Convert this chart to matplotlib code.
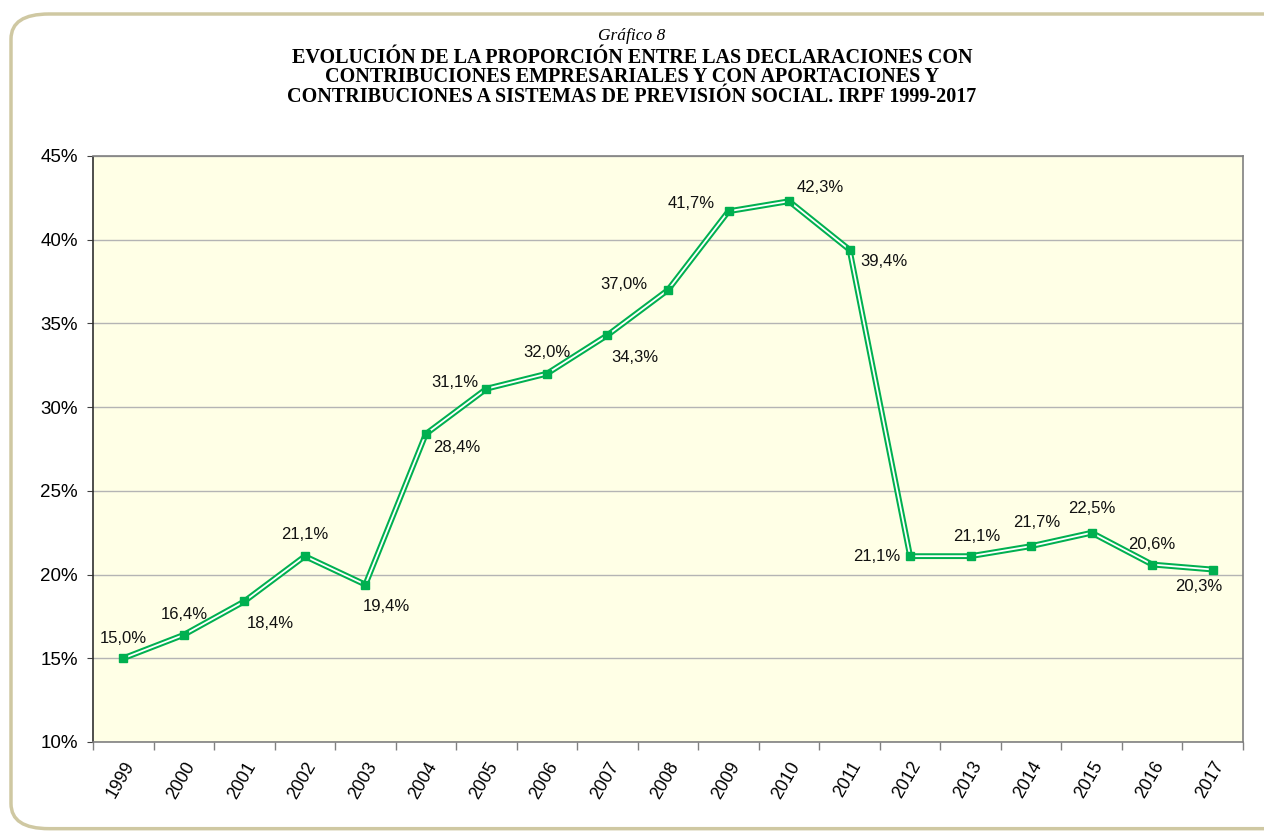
import matplotlib.pyplot as plt
import matplotlib.transforms as mtransforms
from matplotlib.patches import FancyBboxPatch
from matplotlib.ticker import FixedLocator, FuncFormatter

anios = [str(a) for a in range(1999, 2018)]
proporcion = [15.0, 16.4, 18.4, 21.1, 19.4, 28.4, 31.1, 32.0, 34.3, 37.0,
              41.7, 42.3, 39.4, 21.1, 21.1, 21.7, 22.5, 20.6, 20.3]
# desplazamiento de cada etiqueta respecto al punto (pixeles)
desplazamientos = [(0, 20), (1, 20), (26, -22), (0, 22), (21, -22), (31, -14),
                   (-32, 6), (0, 21), (27, -22), (-44, 5), (-37, 8), (31, 14),
                   (34, -12), (-33, 0), (6, 20), (6, 24), (0, 24), (0, 20),
                   (-14, -17)]
lineas_titulo = ['EVOLUCIÓN DE LA PROPORCIÓN ENTRE LAS DECLARACIONES CON',
                 'CONTRIBUCIONES EMPRESARIALES Y CON APORTACIONES Y',
                 'CONTRIBUCIONES A SISTEMAS DE PREVISIÓN SOCIAL. IRPF 1999-2017']

verde = '#00B050'
fondo = '#FFFFE6'

fig = plt.figure(figsize=(12.64, 8.32), dpi=100)

# marco redondeado del recuadro
marco = FancyBboxPatch((11 / 1264, 0.004), 1.2, 1 - 14 / 832 - 0.004,
                       boxstyle='round,pad=0,rounding_size=0.03',
                       transform=fig.transFigure, facecolor='none',
                       edgecolor='#CFC8A2', linewidth=2.5, clip_on=False)
fig.patches.append(marco)

ax = fig.add_axes([93 / 1264, 1 - 742 / 832, 1150 / 1264, 586 / 832])
ax.set_facecolor(fondo)

x = list(range(len(anios)))
ax.plot(x, proporcion, color=verde, lw=4.2, solid_joinstyle='miter', zorder=3)
ax.plot(x, proporcion, color='white', lw=1.3, solid_joinstyle='miter', zorder=4)
ax.plot(x, proporcion, ls='none', marker='s', ms=6, color=verde, zorder=5)

for xi, v, (dx, dy) in zip(x, proporcion, desplazamientos):
    ax.annotate(f'{v:.1f}%'.replace('.', ','), (xi, v), xytext=(dx, dy),
                textcoords='offset pixels', ha='center', va='center',
                fontsize=12, family='Liberation Sans', color='#111111', zorder=6)

ax.set_xlim(-0.5, len(anios) - 0.5)
ax.set_ylim(10, 45)
ax.set_yticks(range(10, 46, 5))
ax.yaxis.set_major_formatter(FuncFormatter(lambda v, p: f'{v:.0f}%'))
ax.grid(axis='y', color='#B4B4B4', lw=1.0)
ax.set_axisbelow(True)

ax.xaxis.set_major_locator(FixedLocator([i - 0.5 for i in range(len(anios) + 1)]))
ax.xaxis.set_minor_locator(FixedLocator(x))
ax.set_xticklabels([])
ax.set_xticklabels(anios, minor=True, rotation=60, ha='right', va='top',
                   rotation_mode='anchor', fontsize=12.8, family='Liberation Sans')
corrimiento = mtransforms.ScaledTranslation(-5 / 100, 0, fig.dpi_scale_trans)
for lab in ax.get_xticklabels(minor=True):
    lab.set_transform(lab.get_transform() + corrimiento)
ax.tick_params(axis='x', which='major', length=6, color='#808080', width=1)
ax.tick_params(axis='x', which='minor', length=0, pad=12)
ax.tick_params(axis='y', length=4, color='#404040', width=0.8, pad=7)
for lab in ax.get_yticklabels():
    lab.set_family('Liberation Sans')
    lab.set_fontsize(13.5)

for lado in ['top', 'right', 'bottom']:
    ax.spines[lado].set_color('#808080')
    ax.spines[lado].set_linewidth(1.2)
ax.spines['left'].set_color('#303030')
ax.spines['left'].set_linestyle((0, (1, 1)))
ax.spines['left'].set_linewidth(1.2)

fig.text(0.5, 1 - 36 / 832, 'Gráfico 8', ha='center', va='center',
         family='Liberation Serif', style='italic', fontsize=12.5)
for i, linea in enumerate(lineas_titulo):
    fig.text(0.5, 1 - (58 + 19.5 * i) / 832, linea, ha='center', va='center',
             family='Liberation Serif', weight='bold', fontsize=14.5)

fig.savefig('out.png', dpi=100)
